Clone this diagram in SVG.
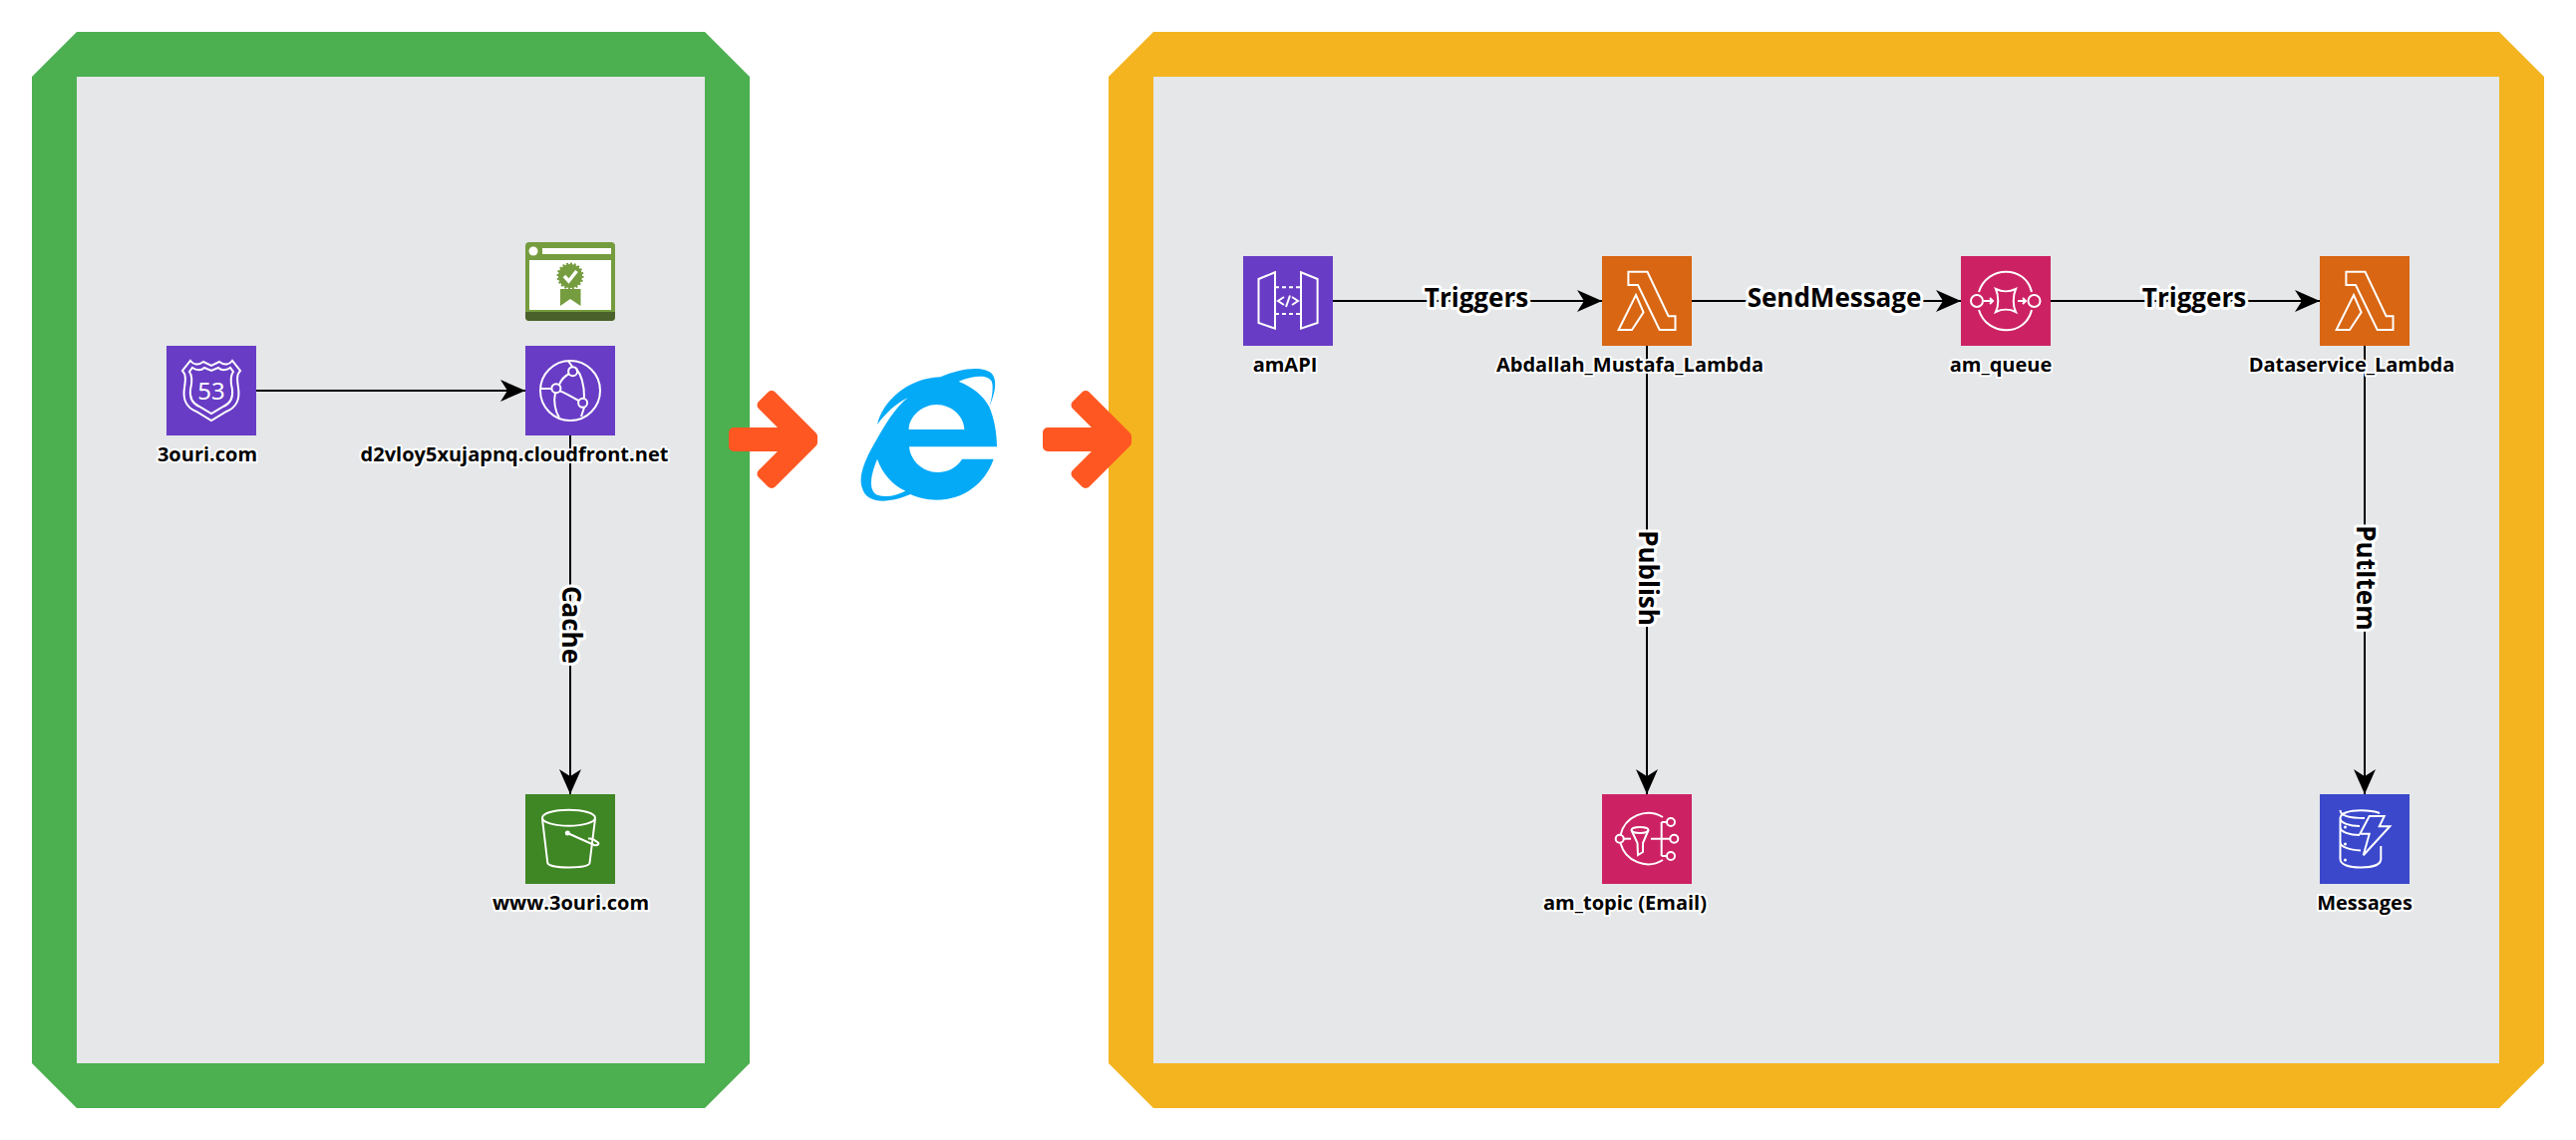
<svg xmlns="http://www.w3.org/2000/svg" width="2584" height="1144" viewBox="0 0 2584 1144">
<style>
.nl{font-family:"Open Sans","Noto Sans",sans-serif;font-weight:700;font-size:20px;fill:#000;text-anchor:middle;paint-order:stroke;stroke:#fff;stroke-width:4px;stroke-linejoin:round}
.el{font-family:"Open Sans","Noto Sans",sans-serif;font-weight:700;font-size:26px;fill:#000;text-anchor:middle;paint-order:stroke;stroke:#fff;stroke-width:6px;stroke-linejoin:round}
.ln{fill:none;stroke:#000;stroke-width:2}
.ic{fill:none;stroke:#fff;stroke-width:2}
.th{fill:none;stroke:#fff;stroke-width:2.4}
</style>
<defs>
<marker id="ah" markerUnits="userSpaceOnUse" markerWidth="26" markerHeight="24" refX="25" refY="12" orient="auto"><path d="M0,1 L25,12 L0,23 L7,12 Z" fill="#000"/></marker>
<symbol id="lambda" viewBox="0 0 90 90" width="90" height="90">
<rect width="90" height="90" fill="#D86613"/>
<path class="ic" d="M26.4,15.7 H45.5 L66.6,60.3 H73.5 V74 H57.7 L36,29 H26.4 Z"/>
<path class="ic" d="M34,39 L41.6,56.3 L30,74 H16.6 Z"/>
</symbol>
<polygon id="arr" points="736,434 792,434 764.5,406.5 774,397 815,438 815,444 774,485 764.5,475.5 792,448 736,448" fill="#FF5722" stroke="#FF5722" stroke-width="10" stroke-linejoin="round"/>
</defs>

<g id="left-frame">
<polygon points="77,32 707,32 752,77 752,1067 707,1112 77,1112 32,1067 32,77" fill="#4CAF50"/>
<rect x="77" y="77" width="630" height="990" fill="#E5E7E9"/>
</g>
<g id="right-frame">
<polygon points="1157,32 2507,32 2552,77 2552,1067 2507,1112 1157,1112 1112,1067 1112,77" fill="#F4B41F"/>
<rect x="1157" y="77" width="1350" height="990" fill="#E5E7E9"/>
</g>

<g id="connectors">
<path class="ln" d="M257,392 H527" marker-end="url(#ah)"/>
<path class="ln" d="M572,437 V797" marker-end="url(#ah)"/>
<path class="ln" d="M1337,302 H1607" marker-end="url(#ah)"/>
<path class="ln" d="M1697,302 H1967" marker-end="url(#ah)"/>
<path class="ln" d="M2057,302 H2327" marker-end="url(#ah)"/>
<path class="ln" d="M1652,347 V797" marker-end="url(#ah)"/>
<path class="ln" d="M2372,347 V797" marker-end="url(#ah)"/>
<text class="el" transform="translate(563.5,627) rotate(90)">Cache</text>
<text class="el" x="1481" y="308">Triggers</text>
<text class="el" x="1840" y="308">SendMessage</text>
<text class="el" x="2201" y="308">Triggers</text>
<text class="el" transform="translate(1643.5,580) rotate(90)">Publish</text>
<text class="el" transform="translate(2363.5,580) rotate(90)">PutItem</text>
</g>

<g id="route53" transform="translate(167,347)">
<rect width="90" height="90" fill="#693CC5"/>
<path class="ic" d="M24,15 C27,19 32,20 37,16 L45,20 L53,16 C58,20 63,19 66,15 L74,25 C70,29 71,35 72,42 C74,54 70,62 60,66 L45,75 L30,66 C20,62 16,54 18,42 C19,35 20,29 16,25 Z" transform="translate(0,0)"/>
<path class="ic" d="M26,22 C30,25 35,25 38,22 L45,25 L52,22 C55,25 60,25 64,22 L67,26 C64,30 64,36 66,44 C67,53 64,58 57,61 L45,68 L33,61 C26,58 23,53 24,44 C26,36 26,30 23,26 Z"/>
<text x="45" y="54" text-anchor="middle" font-family="Noto Sans,sans-serif" font-size="24" fill="#fff">53</text>
</g>
<g id="acm" transform="translate(527,243)">
<rect width="90" height="79" rx="4" fill="#759C3E"/>
<path d="M0,70 H90 V75 A4,4 0 0 1 86,79 H4 A4,4 0 0 1 0,75 Z" fill="#4B612C"/>
<circle cx="8" cy="9" r="4.5" fill="#fff"/>
<rect x="17" y="6" width="69" height="6" fill="#fff"/>
<rect x="4" y="18" width="82" height="50" fill="#fff"/>
<path d="M35,47 H55.500 V64 L45,57 L35,64 Z" fill="#759C3E"/>
<circle cx="45" cy="34" r="12" fill="#759C3E"/>
<circle cx="45" cy="34" r="12.500" fill="none" stroke="#759C3E" stroke-width="2" stroke-dasharray="2 1.900"/>
<path d="M39,34 L43.500,39 L51.500,29" fill="none" stroke="#fff" stroke-width="3.500"/>
</g>
<g id="cloudfront" transform="translate(527,347)">
<rect width="90" height="90" fill="#693CC5"/>
<circle class="ic" cx="45" cy="45" r="30"/>
<circle class="ic" cx="47.600" cy="25.700" r="4.500"/>
<circle class="ic" cx="30.900" cy="42.700" r="4.500"/>
<circle class="ic" cx="57.600" cy="57.300" r="4.500"/>
<path class="ic" d="M15,43 H26 M35,45.500 C42,48 47,52 53.500,55 M34,39 C36,34 40,30 44,28 M51,23 C57,30 59,42 59,52 M30,47 C28,56 30,66 34,72 M59,62 L56,71 M43,15 C44,17 46,19 47,21"/>
</g>
<g id="s3" transform="translate(527,797)">
<rect width="90" height="90" fill="#3F8624"/>
<ellipse class="ic" cx="43.500" cy="23.700" rx="26.500" ry="8"/>
<path class="ic" d="M17,24.700 L22.300,69 C24,75 64,75 64.500,69 L70,24.700"/>
<path class="ic" d="M42.300,39 L69,51 C73,52 75,49 72,48 C70,46 66,44 63,44.500"/>
<circle cx="42.300" cy="39" r="2.500" fill="#fff"/>
</g>

<g id="api-gateway" transform="translate(1247,257)">
<rect width="90" height="90" fill="#693CC5"/>
<path class="ic" d="M32,16.300 L15.500,23 V67 L32,72.700 Z"/>
<path class="ic" d="M58,16.300 L74.600,23 V67 L58,72.700 Z"/>
<path class="ic" d="M32,31.300 H58 M32,58 H58" stroke-dasharray="4 3"/>
<path class="ic" d="M41,41 L35,45 L41,49 M49,41 L55,45 L49,49 M47,39.500 L43,51"/>
</g>
<g id="lambda1" transform="translate(1607,257)"><use href="#lambda"/></g>
<g id="sqs" transform="translate(1967,257)">
<rect width="90" height="90" fill="#CC2264"/>
<circle class="ic" cx="16" cy="45" r="6"/>
<circle class="ic" cx="73.500" cy="45" r="6"/>
<path class="ic" d="M18,36 C26,9 65,9 71,36 M18,54 C26,81 65,81 71,54"/>
<path class="ic" d="M35,33 C41,36 49,36 55,33 C52,40 52,50 55,56 C49,53 41,53 35,56 C38,50 38,40 35,33 Z"/>
<path class="ic" d="M23,45 H32 M29,42 L32,45 L29,48 M57,45 H65 M62,42 L65,45 L62,48"/>
</g>
<g id="lambda2" transform="translate(2327,257)"><use href="#lambda"/></g>
<g id="sns" transform="translate(1607,797)">
<rect width="90" height="90" fill="#CC2264"/>
<path class="ic" d="M61,23 A28.500,28.500 0 0 0 18.500,41 M18.500,49 A28.500,28.500 0 0 0 61,66"/>
<circle class="ic" cx="17.700" cy="44.700" r="4"/>
<path class="ic" d="M22,44.700 H29"/>
<ellipse class="ic" cx="38" cy="36" rx="8.500" ry="3"/>
<path class="ic" d="M29.500,36 L35.500,49 L36,61 L41,58 V49 L46.500,36"/>
<path class="ic" d="M49,44.700 H68 M59.700,28 V62 M59.700,28 H65 M59.700,62 H65"/>
<circle class="ic" cx="69" cy="28" r="4"/>
<circle class="ic" cx="72.300" cy="44.700" r="4"/>
<circle class="ic" cx="69" cy="62" r="4"/>
</g>
<g id="dynamodb" transform="translate(2327,797)">
<rect width="90" height="90" fill="#3B48CC"/>
<path class="ic" d="M45,24 C30,24 20.500,22 20.500,16 M20.500,24 C20.500,19 30,16.300 41,16.300 C48,16.300 55,17 60,19 M20.500,24 V33 C20.500,38 30,41 40,41 M20.500,33 V48 C20.500,53 30,56 41,56.500 M20.500,48 V65 C20.500,71 30,73.500 41,73.500 C52,73.500 61.300,71 61.300,65 V52 M20.500,24 C20.500,29 30,32 40,32" transform="translate(0,0)"/>
<path d="M49.700,22 H64.700 L59.700,32.300 H70.300 L43.700,61.300 L49.700,39.700 H40.300 Z" fill="#3B48CC" stroke="#fff" stroke-width="2"/>
<circle cx="25.500" cy="33" r="1.500" fill="#fff"/><circle cx="25.500" cy="50" r="1.500" fill="#fff"/><circle cx="25.500" cy="66" r="1.500" fill="#fff"/>
</g>

<g id="labels">
<text class="nl" x="208" y="463">3ouri.com</text>
<text class="nl" x="516" y="463">d2vloy5xujapnq.cloudfront.net</text>
<text class="nl" x="572.500" y="913">www.3ouri.com</text>
<text class="nl" x="1289" y="373">amAPI</text>
<text class="nl" x="1635" y="373">Abdallah_Mustafa_Lambda</text>
<text class="nl" x="2007" y="373">am_queue</text>
<text class="nl" x="2359" y="373">Dataservice_Lambda</text>
<text class="nl" x="1630" y="913">am_topic (Email)</text>
<text class="nl" x="2372" y="913">Messages</text>
</g>

<g id="edge-icon" transform="translate(700,340) scale(0.33333)">
<path fill="#05AAF7" fill-rule="evenodd" d="M730,115 C790,88 860,80 885,105 C905,130 890,175 877,205 C892,240 900,285 900,325 H636 C640,370 680,402 720,402 C755,402 782,385 795,362 H890 C865,435 800,485 718,485 C690,485 660,478 640,468 C590,490 510,505 495,450 C480,410 510,350 540,300 C560,265 595,205 632,178 C595,195 565,225 540,258 C555,190 630,118 730,115 Z M635,273 H802 C802,235 765,198 718,198 C675,198 635,235 635,273 Z M785,128 C830,112 872,105 885,130 C890,150 885,180 877,205 C860,170 825,145 785,128 Z M540,362 C520,410 512,455 540,470 C570,480 600,470 625,458 C585,440 555,405 540,362 Z"/>
</g>
<g id="arrow-left"><use href="#arr"/></g>
<g id="arrow-right" transform="translate(315,0)"><use href="#arr"/></g>
</svg>
